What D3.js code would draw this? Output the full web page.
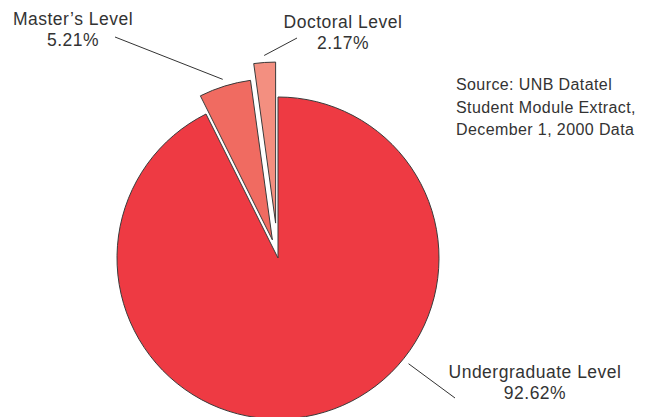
<!DOCTYPE html>
<html>
<head>
<meta charset="utf-8">
<script src="https://cdn.jsdelivr.net/npm/d3@7"></script>
<style>
  html, body { margin: 0; padding: 0; background: #fff; }
  svg { display: block; }
  text { font-family: "Liberation Sans", Arial, sans-serif; fill: #333; }
</style>
</head>
<body>
<svg id="chart" width="654" height="417"></svg>
<script>
// Enrolment by level of study
const levels = ["Undergraduate Level", "Master\u2019s Level", "Doctoral Level"];
const shares = [92.62, 5.21, 2.17];
const percentLabels = ["92.62%", "5.21%", "2.17%"];
const sourceLines = ["Source: UNB Datatel", "Student Module Extract,", "December 1, 2000 Data"];

const colors = ["#ee3a43", "#f06b61", "#f38f80"];
const explode = [0, 19, 35];          // pull-out distance of each wedge
const cx = 278, cy = 258, radius = 161;

// label anchor (first baseline, centred) and leader start point
const labelPos = [
  { x: 535, y: 378, lx: 455, ly: 398, leaderAngle: 129 * Math.PI / 180 },
  { x: 73,  y: 25,  lx: 115, ly: 37 },
  { x: 343, y: 28,  lx: 297, ly: 38 }
];

const svg = d3.select("#chart");
const g = svg.append("g").attr("transform", `translate(${cx},${cy})`);

const pie = d3.pie().sort(null).value(d => d)
  .startAngle(0).endAngle(2 * Math.PI);
const arcs = pie(shares);
const arc = d3.arc().innerRadius(0).outerRadius(radius);

function offset(d, i) {
  const mid = (d.startAngle + d.endAngle) / 2;
  return [Math.sin(mid) * explode[i], -Math.cos(mid) * explode[i]];
}

g.selectAll("path.slice")
  .data(arcs)
  .join("path")
  .attr("class", "slice")
  .attr("d", arc)
  .attr("transform", (d, i) => { const o = offset(d, i); return `translate(${o[0]},${o[1]})`; })
  .attr("fill", (d, i) => colors[i])
  .attr("stroke", "#3a3a3a")
  .attr("stroke-width", 1)
  .attr("stroke-linejoin", "miter");

// leader lines from labels to wedges
const leaderR = radius + 7;
arcs.forEach((d, i) => {
  const o = offset(d, i);
  const p = labelPos[i];
  const ang = p.leaderAngle !== undefined ? p.leaderAngle : (d.startAngle + d.endAngle) / 2;
  const ex = cx + o[0] + Math.sin(ang) * leaderR;
  const ey = cy + o[1] - Math.cos(ang) * leaderR;
  svg.append("line")
    .attr("x1", p.lx).attr("y1", p.ly)
    .attr("x2", ex).attr("y2", ey)
    .attr("stroke", "#333").attr("stroke-width", 1);
});

// category labels
arcs.forEach((d, i) => {
  const p = labelPos[i];
  const t = svg.append("text")
    .attr("text-anchor", "middle")
    .attr("font-size", 17.5)
    .attr("letter-spacing", 0.5);
  t.append("tspan").attr("x", p.x).attr("y", p.y).text(levels[i]);
  t.append("tspan").attr("x", p.x).attr("y", p.y + 20.5).text(percentLabels[i]);
});

// source note
const src = svg.append("text").attr("font-size", 16).attr("letter-spacing", 0.4);
sourceLines.forEach((s, i) => {
  src.append("tspan").attr("x", 456).attr("y", 90 + i * 22.5).text(s);
});
</script>
</body>
</html>
